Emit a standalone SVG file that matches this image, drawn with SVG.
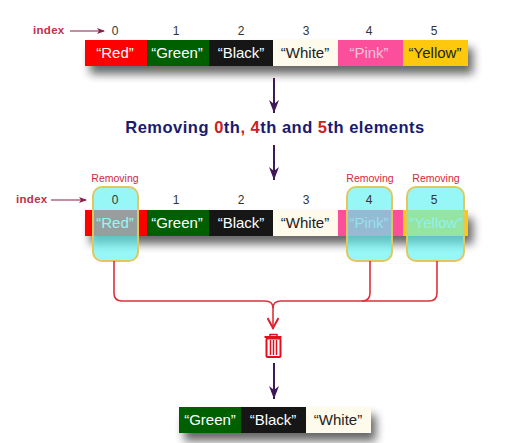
<svg xmlns="http://www.w3.org/2000/svg" width="511" height="443" viewBox="0 0 511 443">
<style>
text{font-family:"Liberation Sans",Arial,sans-serif}
.v{font-size:15px;text-anchor:middle}
.l{fill:#fff}.d{fill:#222}
.i{font-size:12px;text-anchor:middle;fill:#333}
.rm{font-size:10.500px;text-anchor:middle;fill:#d0283c}
.idx{font-size:11.500px;font-weight:bold;fill:#c0304a;letter-spacing:.3px}
.thin{stroke:#8a1c4a;stroke-width:1.200;fill:none;marker-end:url(#sm)}
.pur{stroke:#3f1858;stroke-width:2;fill:none;marker-end:url(#pu)}
.red{stroke:#e0303c;stroke-width:1.600;fill:none}
.ov{fill:#5ff2f2;fill-opacity:.65;stroke:#e2c85c;stroke-width:2}
.bar{filter:url(#sh)}
</style>
<defs>
<filter id="sh" x="-10%" y="-50%" width="125%" height="250%"><feGaussianBlur in="SourceAlpha" stdDeviation="5"/><feOffset dx="5" dy="8"/><feComponentTransfer><feFuncA type="linear" slope=".6"/></feComponentTransfer><feMerge><feMergeNode/><feMergeNode in="SourceGraphic"/></feMerge></filter>
<marker id="sm" markerWidth="8" markerHeight="6" refX="7" refY="3" orient="auto" markerUnits="userSpaceOnUse"><path d="M0 0L8 3L0 6L2 3Z" fill="#8a1c4a"/></marker>
<marker id="pu" markerWidth="14" markerHeight="10" refX="13" refY="5" orient="auto" markerUnits="userSpaceOnUse"><path d="M0 0L4 5L0 10L13 5Z" fill="#3f1858"/></marker>
<marker id="rd" markerWidth="13" markerHeight="12" refX="12" refY="6" orient="auto" markerUnits="userSpaceOnUse"><path d="M1 .5L11 6L1 11.500" fill="none" stroke="#e0202c" stroke-width="2"/></marker>
</defs>

<g id="top-array">
<text class="idx" x="33" y="34">index</text>
<path class="thin" d="M70 31H104"/>
<text class="i" x="115" y="35">0</text><text class="i" x="176" y="35">1</text><text class="i" x="241" y="35">2</text><text class="i" x="306" y="35">3</text><text class="i" x="369" y="35">4</text><text class="i" x="434" y="35">5</text>
<g class="bar"><rect x="85" y="40" width="62" height="26" fill="#fe0000"/><rect x="147" y="40" width="62" height="26" fill="#016001"/><rect x="209" y="40" width="64" height="26" fill="#141414"/><rect x="273" y="40" width="65" height="26" fill="#fefaec"/><rect x="338" y="40" width="65" height="26" fill="#fb4f9c"/><rect x="403" y="40" width="65" height="26" fill="#fdc80a"/></g>
<text class="v l" x="115" y="58">“Red”</text><text class="v l" x="177" y="58">“Green”</text><text class="v l" x="241" y="58">“Black”</text><text class="v d" x="305" y="58">“White”</text><text class="v" fill="#f6c6dc" x="369" y="58">“Pink”</text><text class="v d" x="435" y="58">“Yellow”</text>
</g>

<g id="title">
<text x="275" y="133" text-anchor="middle" font-size="16.500" font-weight="bold" fill="#1a1a6e" letter-spacing=".5">Removing <tspan fill="#cc2222">0</tspan>th<tspan fill="#cc2222">,</tspan> <tspan fill="#cc2222">4</tspan>th and <tspan fill="#cc2222">5</tspan>th elements</text>
</g>

<g id="middle-array">
<text class="idx" x="16" y="203">index</text>
<path class="thin" d="M51 200H86"/>
<g class="bar"><rect x="85" y="210" width="62" height="26" fill="#fe0000"/><rect x="147" y="210" width="62" height="26" fill="#016001"/><rect x="209" y="210" width="64" height="26" fill="#141414"/><rect x="273" y="210" width="65" height="26" fill="#fefaec"/><rect x="338" y="210" width="65" height="26" fill="#fb4f9c"/><rect x="403" y="210" width="65" height="26" fill="#fdc80a"/></g>
<text class="v l" x="115" y="228">“Red”</text><text class="v l" x="177" y="228">“Green”</text><text class="v l" x="241" y="228">“Black”</text><text class="v d" x="305" y="228">“White”</text><text class="v" fill="#f6c6dc" x="369" y="228">“Pink”</text><text class="v" fill="#e8efe0" x="436" y="228">“Yellow”</text>
<text class="i" x="176" y="204">1</text><text class="i" x="241" y="204">2</text><text class="i" x="306" y="204">3</text>
</g>

<g id="remove-0"><rect class="ov" x="93" y="187" width="45" height="74" rx="9"/><text class="rm" x="115" y="182">Removing</text><text class="i" x="115" y="204">0</text></g>
<g id="remove-4"><rect class="ov" x="347" y="187" width="45" height="74" rx="9"/><text class="rm" x="370" y="182">Removing</text><text class="i" x="369" y="204">4</text></g>
<g id="remove-5"><rect class="ov" x="407" y="187" width="57" height="74" rx="9"/><text class="rm" x="436" y="182">Removing</text><text class="i" x="434" y="204">5</text></g>

<g id="connectors">
<path class="pur" d="M274 78V113"/>
<path class="pur" d="M274 145V180"/>
<path class="pur" d="M274 363V399"/>
<path class="red" d="M114 261V293Q114 301 122 301H265Q273 301 273 308"/>
<path class="red" d="M370 261V293Q370 301 362 301H281Q273 301 273 308"/>
<path class="red" d="M437 261V293Q437 301 429 301H362"/>
<path class="red" stroke-width="1.800" d="M273 306V329" marker-end="url(#rd)"/>
</g>

<g id="trash" fill="none" stroke="#e0101c">
<path d="M264.500 337H281.500" stroke-width="2"/>
<path d="M270 336V334.500H277V336" stroke-width="1.500"/>
<rect x="266.500" y="338.500" width="14" height="18.500" rx="1" stroke-width="2"/>
<path d="M270.500 340V355M273.500 340V355M276.500 340V355" stroke-width="1.500"/>
</g>

<g id="bottom-array">
<g class="bar"><rect x="179" y="407" width="62" height="26" fill="#016001"/><rect x="241" y="407" width="65" height="26" fill="#141414"/><rect x="306" y="407" width="65" height="26" fill="#fefaec"/></g>
<text class="v l" x="210" y="425">“Green”</text><text class="v l" x="273" y="425">“Black”</text><text class="v d" x="338" y="425">“White”</text>
</g>
</svg>
